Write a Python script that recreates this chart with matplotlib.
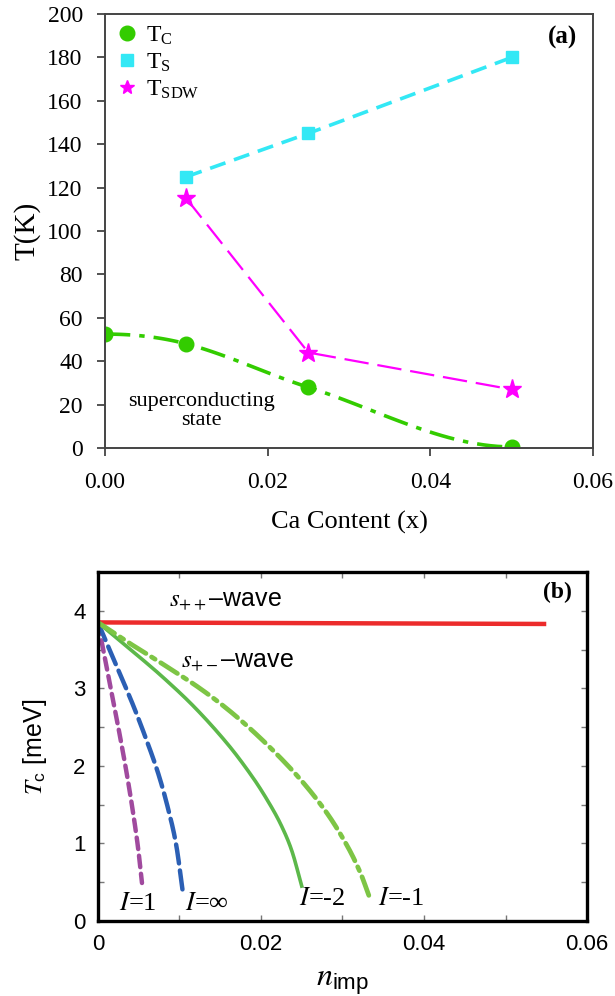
import matplotlib
matplotlib.use("Agg")
import matplotlib.pyplot as plt
import numpy as np

plt.rcParams['mathtext.fontset'] = 'stix'

# panel (a) data
ca_tc = [0.0, 0.01, 0.025, 0.05]
tc_K = [52.5, 48.0, 28.0, 0.5]
ca_ts = [0.01, 0.025, 0.05]
ts_K = [125.0, 145.0, 180.0]
ca_sdw = [0.01, 0.025, 0.05]
tsdw_K = [115.0, 44.0, 27.0]

# panel (b) data
spp_n = [0.0, 0.055]
spp_tc = [3.85, 3.83]
i1_n = [0.0, 0.0005, 0.0014, 0.0024, 0.0034, 0.0042, 0.0049, 0.0054]
i1_tc = [3.85, 3.58, 3.09, 2.55, 1.98, 1.47, 0.96, 0.49]
iinf_n = [0.0, 0.0008, 0.0026, 0.0044, 0.0060, 0.0074, 0.0086, 0.0096, 0.0104]
iinf_tc = [3.85, 3.65, 3.21, 2.76, 2.32, 1.90, 1.45, 0.98, 0.38]
im2_n = [0.0, 0.004, 0.008, 0.012, 0.016, 0.019, 0.021, 0.0225, 0.0238, 0.025]
im2_tc = [3.85, 3.50, 3.14, 2.74, 2.27, 1.85, 1.52, 1.23, 0.90, 0.45]
im1_n = [0.0, 0.0036, 0.0077, 0.0125, 0.0166, 0.0207, 0.0248, 0.0281, 0.0306, 0.0322, 0.0333]
im1_tc = [3.85, 3.60, 3.33, 3.00, 2.67, 2.28, 1.83, 1.39, 0.965, 0.62, 0.31]


def hermite(x, y, flat_ends=False, n=30):
    # smooth curve through the points (cubic Hermite, finite-difference slopes)
    x = np.asarray(x, float)
    y = np.asarray(y, float)
    m = np.zeros(len(x))
    for i in range(1, len(x) - 1):
        m[i] = (y[i + 1] - y[i - 1]) / (x[i + 1] - x[i - 1])
    if not flat_ends:
        m[0] = (y[1] - y[0]) / (x[1] - x[0])
        m[-1] = (y[-1] - y[-2]) / (x[-1] - x[-2])
    xs, ys = [], []
    t = np.linspace(0, 1, n)
    h00 = 2 * t**3 - 3 * t**2 + 1
    h10 = t**3 - 2 * t**2 + t
    h01 = -2 * t**3 + 3 * t**2
    h11 = t**3 - t**2
    for i in range(len(x) - 1):
        h = x[i + 1] - x[i]
        xs.append(x[i] + t * h)
        ys.append(h00 * y[i] + h10 * h * m[i] + h01 * y[i + 1] + h11 * h * m[i + 1])
    return np.concatenate(xs), np.concatenate(ys)


fig = plt.figure(figsize=(6.15, 9.96), dpi=100)

# ---------- (a) ----------
serif = 'Liberation Serif'
ax1 = fig.add_axes([0.1707, 0.5502, 0.7935, 0.4357])
sx, sy = hermite(ca_tc, tc_K, flat_ends=True)
ax1.plot(sx, sy, color='#33cc00', lw=2.6, dashes=(7, 2.5, 1.5, 2.5))
ax1.plot(ca_tc, tc_K, 'o', color='#33cc00', ms=10.5, label=r'T$_{\mathregular{C}}$')
ax1.plot(ca_ts, ts_K, color='#33e8f5', lw=2.6, dashes=(4.5, 2.5))
ax1.plot(ca_ts, ts_K, 's', color='#33e8f5', ms=9, label=r'T$_{\mathregular{S}}$')
ax1.plot(ca_sdw, tsdw_K, color='#ff00ff', lw=1.6, dashes=(11, 4))
ax1.plot(ca_sdw, tsdw_K, '*', color='#ff00ff', ms=14, label=r'T$_{\mathregular{SDW}}$')

ax1.set_xlim(0, 0.06)
ax1.set_ylim(0, 200)
ax1.set_xticks([0.0, 0.02, 0.04, 0.06])
ax1.set_xticklabels(['0.00', '0.02', '0.04', '0.06'])
ax1.set_yticks(range(0, 201, 20))
ax1.tick_params(direction='out', length=6, width=1.3, color='#444444',
                labelsize=17)
ax1.tick_params(axis='y', pad=10)
ax1.tick_params(axis='x', pad=11)
for lab in ax1.get_xticklabels() + ax1.get_yticklabels():
    lab.set_family(serif)
for s in ax1.spines.values():
    s.set_color('#444444')
    s.set_linewidth(1.4)
ax1.set_ylabel('T(K)', family=serif, fontsize=21, labelpad=5)
ax1.set_xlabel('Ca Content (x)', family=serif, fontsize=19, labelpad=13)
ax1.text(0.0119, 17, 'superconducting\nstate', family=serif, fontsize=16,
         ha='center', va='center', linespacing=1.0)
ax1.text(0.0562, 189, '(a)', family=serif, fontsize=18, fontweight='bold',
         ha='center', va='center')
leg = ax1.legend(loc='upper left', frameon=False, prop={'family': serif, 'size': 17},
                 handlelength=1.0, handletextpad=0.3, labelspacing=0.2,
                 borderaxespad=0.05, numpoints=1)
leg.legend_handles[2].set_markersize(10)

# ---------- (b) ----------
sans = 'Liberation Sans'
ax2 = fig.add_axes([0.1593, 0.0753, 0.7952, 0.3504])
ax2.plot(spp_n, spp_tc, color='#ec2b2b', lw=3.2, solid_capstyle='butt')
cx, cy = hermite(i1_n, i1_tc)
ax2.plot(cx, cy, color='#a04a9e', lw=3.2, dashes=(2.6, 1.5), dash_capstyle='round')
cx, cy = hermite(iinf_n, iinf_tc)
ax2.plot(cx, cy, color='#2b5fb4', lw=3.2, dashes=(4.3, 1.6), dash_capstyle='round')
cx, cy = hermite(im2_n, im2_tc)
ax2.plot(cx, cy, color='#5cb84a', lw=2.6)
cx, cy = hermite(im1_n, im1_tc)
ax2.plot(cx, cy, color='#7dc545', lw=3.4, dashes=(4.2, 1.4, 0.9, 1.4), dash_capstyle='round')

ax2.set_xlim(0, 0.06)
ax2.set_ylim(0, 4.5)
ax2.set_xticks([0, 0.02, 0.04, 0.06])
ax2.set_xticklabels(['0', '0.02', '0.04', '0.06'])
ax2.set_xticks(np.arange(0, 0.061, 0.01), minor=True)
ax2.set_yticks([0, 1, 2, 3, 4])
ax2.set_yticks(np.arange(0, 4.51, 0.5), minor=True)
ax2.tick_params(which='both', direction='in', top=True, right=True,
                length=4, width=1, color='#777777', labelsize=16, pad=9)
for lab in ax2.get_xticklabels() + ax2.get_yticklabels():
    lab.set_family(sans)
for s in ax2.spines.values():
    s.set_color('black')
    s.set_linewidth(2.4)
ax2.set_ylabel(r'$T_\mathregular{c}$ [meV]', family=sans, fontsize=18, labelpad=17)
ax2.set_xlabel(r'$n_\mathregular{imp}$', family=sans, fontsize=23, labelpad=9)

ax2.text(0.0087, 4.14, r'$s_{++}$–wave', family=sans, fontsize=18, ha='left', va='center')
ax2.text(0.0102, 3.35, r'$s_{+-}$–wave', family=sans, fontsize=18, ha='left', va='center')
ax2.text(0.0026, 0.22, r'$I$=1', family=serif, fontsize=19, ha='left', va='center')
ax2.text(0.0107, 0.22, r'$I$=∞', family=serif, fontsize=19, ha='left', va='center')
ax2.text(0.0247, 0.29, r'$I$=-2', family=serif, fontsize=19, ha='left', va='center')
ax2.text(0.0343, 0.29, r'$I$=-1', family=serif, fontsize=19, ha='left', va='center')
ax2.text(0.0564, 4.23, '(b)', family=serif, fontsize=17, fontweight='bold',
         ha='center', va='center')

fig.savefig('out.png', dpi=100)
